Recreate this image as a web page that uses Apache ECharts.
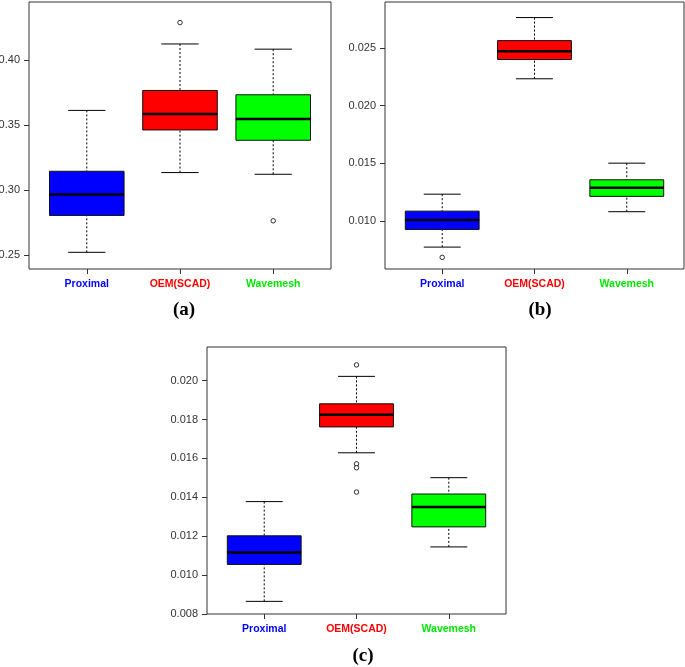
<!DOCTYPE html>
<html>
<head>
<meta charset="utf-8">
<script src="https://cdn.jsdelivr.net/npm/echarts@6/dist/echarts.min.js"></script>
<style>
  html, body { margin: 0; padding: 0; background: #fff; }
  #chart { width: 685px; height: 667px; }
</style>
</head>
<body>
<div id="chart"></div>
<script>
// method names and their colours
const categories = ['Proximal', 'OEM(SCAD)', 'Wavemesh']
const boxColors = ['#0000ff', '#ff0000', '#00ff00']

// [x, min, Q1, median, Q3, max]
const boxA = [
  [1, 0.2523, 0.2806, 0.2967, 0.3145, 0.3612],
  [2, 0.3135, 0.3462, 0.3584, 0.3765, 0.4122],
  [3, 0.3122, 0.3383, 0.3546, 0.3732, 0.4082]
]
const outA = [[2, 0.4286], [3, 0.2765]]

const boxB = [
  [1, 0.00772, 0.00925, 0.01006, 0.01084, 0.01231],
  [2, 0.02232, 0.02399, 0.02471, 0.02563, 0.02763],
  [3, 0.01079, 0.01212, 0.01287, 0.01356, 0.01500]
]
const outB = [[1, 0.00683]]

const boxC = [
  [1, 0.00865, 0.01055, 0.01116, 0.01202, 0.01378],
  [2, 0.01629, 0.01762, 0.01824, 0.01881, 0.02022],
  [3, 0.01145, 0.01248, 0.01350, 0.01417, 0.01501]
]
const outC = [[2, 0.02081], [2, 0.01572], [2, 0.01552], [2, 0.01427]]

// tick labels
const ticksA = [0.25, 0.30, 0.35, 0.40]
const ticksB = [0.010, 0.015, 0.020, 0.025]
const ticksC = [0.008, 0.010, 0.012, 0.014, 0.016, 0.018, 0.020]

const chart = echarts.init(document.getElementById('chart'))

function renderBox(params, api) {
  const x = api.value(0)
  const lo = api.coord([x, api.value(1)])
  const q1 = api.coord([x, api.value(2)])
  const md = api.coord([x, api.value(3)])
  const q3 = api.coord([x, api.value(4)])
  const hi = api.coord([x, api.value(5)])
  const w = api.size([0.8, 0])[0]
  const cap = w / 4
  const cx = md[0]
  const dash = { stroke: '#000', lineWidth: 1, lineDash: [2, 2] }
  const solid = { stroke: '#000', lineWidth: 1 }
  return {
    type: 'group',
    children: [
      { type: 'line', shape: { x1: cx, y1: lo[1], x2: cx, y2: q1[1] }, style: dash },
      { type: 'line', shape: { x1: cx, y1: hi[1], x2: cx, y2: q3[1] }, style: dash },
      { type: 'line', shape: { x1: cx - cap, y1: lo[1], x2: cx + cap, y2: lo[1] }, style: solid },
      { type: 'line', shape: { x1: cx - cap, y1: hi[1], x2: cx + cap, y2: hi[1] }, style: solid },
      {
        type: 'rect',
        shape: { x: cx - w / 2, y: q3[1], width: w, height: q1[1] - q3[1] },
        style: { fill: boxColors[params.dataIndex], stroke: '#111', lineWidth: 1 }
      },
      { type: 'line', shape: { x1: cx - w / 2, y1: md[1], x2: cx + w / 2, y2: md[1] }, style: { stroke: '#000', lineWidth: 2.5 } }
    ]
  }
}

const labelRich = {
  c0: { color: '#0000ff', fontWeight: 'bold', fontSize: 10.5, fontFamily: 'Liberation Sans' },
  c1: { color: '#ff0000', fontWeight: 'bold', fontSize: 10.5, fontFamily: 'Liberation Sans' },
  c2: { color: '#00e600', fontWeight: 'bold', fontSize: 10.5, fontFamily: 'Liberation Sans' }
}

function xAxis(idx) {
  return {
    type: 'value', gridIndex: idx, min: 0.38, max: 3.62,
    axisLine: { show: false },
    splitLine: { show: false },
    axisTick: { show: true, length: 5, customValues: [1, 2, 3], lineStyle: { color: '#333' } },
    axisLabel: {
      customValues: [1, 2, 3], margin: 10,
      formatter: v => '{c' + (v - 1) + '|' + categories[v - 1] + '}',
      rich: labelRich
    }
  }
}

function yAxis(idx, min, max, ticks, digits) {
  return {
    type: 'value', gridIndex: idx, min: min, max: max,
    axisLine: { show: false },
    splitLine: { show: false },
    axisTick: { show: true, length: 5, customValues: ticks, lineStyle: { color: '#333' } },
    axisLabel: {
      customValues: ticks, margin: 9, color: '#333', fontSize: 11, fontFamily: 'Liberation Sans',
      formatter: v => v.toFixed(digits)
    }
  }
}

// the frame of each panel; labels are allowed to run off the page, as in the original
const frame = { show: true, borderColor: '#333', borderWidth: 1, backgroundColor: 'transparent', containLabel: false, outerBoundsMode: 'none' }

function boxSeries(idx, data) {
  return { type: 'custom', xAxisIndex: idx, yAxisIndex: idx, renderItem: renderBox, data: data, silent: true }
}
function outSeries(idx, data) {
  return {
    type: 'scatter', xAxisIndex: idx, yAxisIndex: idx, data: data,
    symbol: 'circle', symbolSize: 4.5,
    itemStyle: { color: '#fff', borderColor: '#000', borderWidth: 1 },
    silent: true
  }
}

const caption = (text, x, y) => ({
  type: 'text', x: x, y: y,
  style: { text: text, font: 'bold 19px "Liberation Serif"', fill: '#000', align: 'center', verticalAlign: 'middle' }
})

chart.setOption({
  animation: false,
  grid: [
    Object.assign({ left: 29, top: 2, width: 302, height: 267 }, frame),
    Object.assign({ left: 385, top: 2, width: 299, height: 267 }, frame),
    Object.assign({ left: 207, top: 347, width: 299, height: 267 }, frame)
  ],
  xAxis: [xAxis(0), xAxis(1), xAxis(2)],
  yAxis: [
    yAxis(0, 0.2395, 0.4444, ticksA, 2),
    yAxis(1, 0.00582, 0.02898, ticksB, 3),
    yAxis(2, 0.008, 0.02173, ticksC, 3)
  ],
  series: [
    boxSeries(0, boxA), outSeries(0, outA),
    boxSeries(1, boxB), outSeries(1, outB),
    boxSeries(2, boxC), outSeries(2, outC)
  ],
  graphic: [
    caption('(a)', 184, 310),
    caption('(b)', 540, 310),
    caption('(c)', 363, 656)
  ]
})
</script>
</body>
</html>
